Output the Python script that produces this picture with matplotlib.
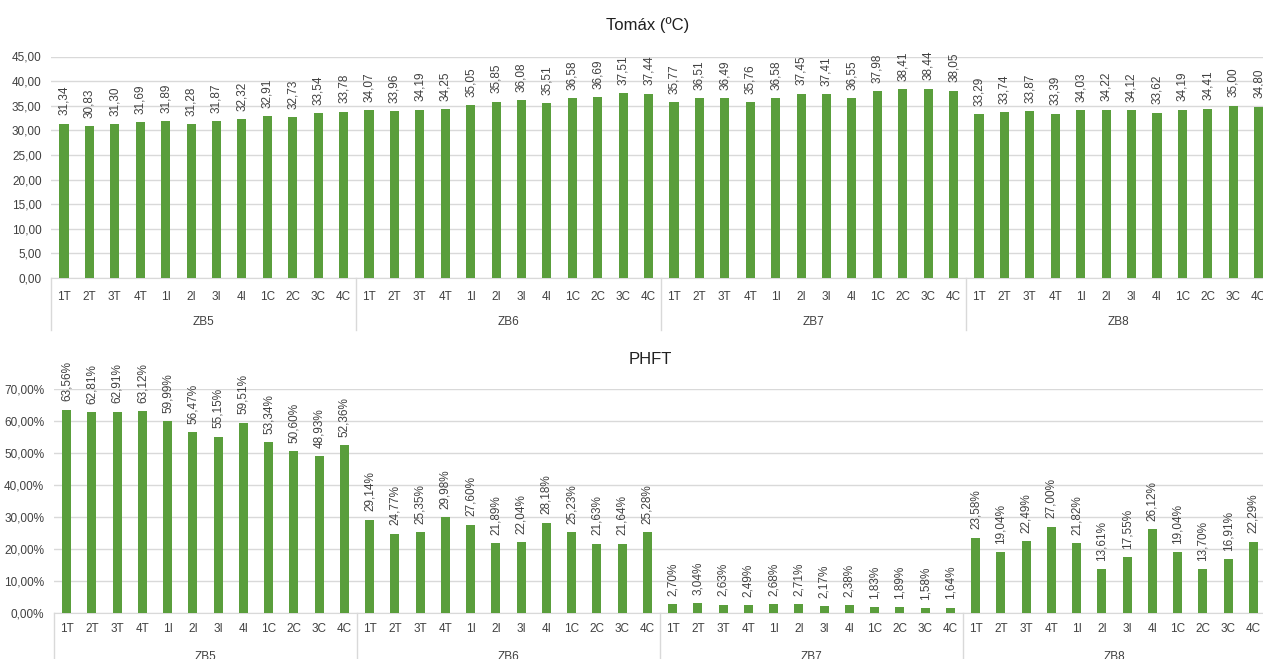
import matplotlib.pyplot as plt
from matplotlib.ticker import FuncFormatter

plt.rcParams['font.family'] = ['Liberation Sans', 'DejaVu Sans']

groups = ["ZB5", "ZB6", "ZB7", "ZB8"]
points = ["1T", "2T", "3T", "4T", "1I", "2I", "3I", "4I", "1C", "2C", "3C", "4C"]

# temperatura maxima por ponto (ºC)
tomax_zb5 = [31.34, 30.83, 31.30, 31.69, 31.89, 31.28, 31.87, 32.32, 32.91, 32.73, 33.54, 33.78]
tomax_zb6 = [34.07, 33.96, 34.19, 34.25, 35.05, 35.85, 36.08, 35.51, 36.58, 36.69, 37.51, 37.44]
tomax_zb7 = [35.77, 36.51, 36.49, 35.76, 36.58, 37.45, 37.41, 36.55, 37.98, 38.41, 38.44, 38.05]
tomax_zb8 = [33.29, 33.74, 33.87, 33.39, 34.03, 34.22, 34.12, 33.62, 34.19, 34.41, 35.00, 34.80]

# PHFT (%)
phft_zb5 = [63.56, 62.81, 62.91, 63.12, 59.99, 56.47, 55.15, 59.51, 53.34, 50.60, 48.93, 52.36]
phft_zb6 = [29.14, 24.77, 25.35, 29.98, 27.60, 21.89, 22.04, 28.18, 25.23, 21.63, 21.64, 25.28]
phft_zb7 = [2.70, 3.04, 2.63, 2.49, 2.68, 2.71, 2.17, 2.38, 1.83, 1.89, 1.58, 1.64]
phft_zb8 = [23.58, 19.04, 22.49, 27.00, 21.82, 13.61, 17.55, 26.12, 19.04, 13.70, 16.91, 22.29]

tomax = tomax_zb5 + tomax_zb6 + tomax_zb7 + tomax_zb8
phft = phft_zb5 + phft_zb6 + phft_zb7 + phft_zb8
labels = points * len(groups)

GREEN = '#5A9E3C'
GRID = '#D9D9D9'
TXT = '#404040'
FS = 8.5


def virgula(v, dec=2):
    return f"{v:.{dec}f}".replace('.', ',')


def draw_panel(ax, values, ymax, ystep, suffix, tick_pad, grp_y, sep_len):
    x = list(range(len(values)))
    ax.bar(x, values, width=0.36, color=GREEN, zorder=3)
    ax.set_xlim(-0.5, len(values) - 0.5)
    ax.set_ylim(0, ymax)
    ax.set_yticks([i * ystep for i in range(int(round(ymax / ystep)) + 1)])
    ax.yaxis.set_major_formatter(FuncFormatter(lambda v, p: virgula(v) + suffix))
    ax.grid(axis='y', color=GRID, linewidth=1, zorder=0)
    for s in ['top', 'right', 'left']:
        ax.spines[s].set_visible(False)
    ax.spines['bottom'].set_color(GRID)
    ax.set_xticks(x)
    ax.set_xticklabels(labels)
    ax.tick_params(axis='x', length=0, pad=tick_pad, labelsize=FS, labelcolor=TXT)
    ax.tick_params(axis='y', length=0, pad=7, labelsize=FS, labelcolor=TXT)
    for xi, v in zip(x, values):
        ax.annotate(virgula(v) + suffix, (xi, v), xytext=(0, 6), textcoords='offset points',
                    rotation=90, ha='center', va='bottom', fontsize=FS, color=TXT)
    tr = ax.get_xaxis_transform()
    n = len(points)
    for g, name in enumerate(groups):
        ax.plot([g * n - 0.5, g * n - 0.5], [0, -sep_len], transform=tr, color=GRID,
                linewidth=1, clip_on=False)
        ax.text(g * n + (n - 1) / 2, grp_y, name, transform=tr, ha='center', va='center',
                fontsize=FS, color=TXT)


fig = plt.figure(figsize=(12.63, 6.59), dpi=100)
W, H = 1263, 659

ax1 = fig.add_axes([51.3 / W, 1 - 278 / H, 1220 / W, (278 - 56.5) / H])
draw_panel(ax1, tomax, 45, 5, '', 9, -0.199, 0.235)

ax2 = fig.add_axes([54 / W, 1 - 613 / H, 1212 / W, (613 - 389) / H])
draw_panel(ax2, phft, 70, 10, '%', 7.5, -0.196, 0.3)

# titulos de cada painel
fig.text(648 / W, 1 - 25 / H, 'Tomáx (ºC)', ha='center', va='center', fontsize=12, color='#202020')
fig.text(650 / W, 1 - 360 / H, 'PHFT', ha='center', va='center', fontsize=12, color='#202020')

fig.savefig('out.png', dpi=100)
